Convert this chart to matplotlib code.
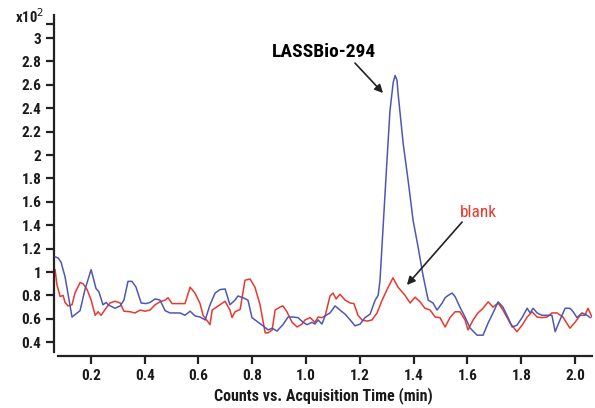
import matplotlib
matplotlib.use("Agg")
import matplotlib.pyplot as plt
from matplotlib import font_manager

# ---------------- data ----------------
blue_t = [0.067, 0.078, 0.089, 0.104, 0.130, 0.149, 0.160, 0.178, 0.201, 0.219,
          0.230, 0.245, 0.257, 0.264, 0.290, 0.309, 0.323, 0.338, 0.353, 0.368,
          0.387, 0.405, 0.420, 0.439, 0.457, 0.476, 0.494, 0.532, 0.550, 0.569,
          0.587, 0.606, 0.625, 0.643, 0.662, 0.680, 0.699, 0.717, 0.736, 0.747,
          0.766, 0.784, 0.799, 0.822, 0.840, 0.859, 0.874, 0.892, 0.914, 0.933,
          0.952, 0.970, 0.989, 1.004, 1.022, 1.033, 1.045, 1.059, 1.071, 1.089,
          1.108, 1.126, 1.145, 1.164, 1.182, 1.201, 1.219, 1.238, 1.257, 1.268,
          1.275, 1.283, 1.301, 1.312, 1.324, 1.331, 1.338, 1.342, 1.361, 1.379,
          1.398, 1.416, 1.435, 1.454, 1.472, 1.487, 1.506, 1.517, 1.528, 1.543,
          1.554, 1.572, 1.591, 1.610, 1.636, 1.658, 1.677, 1.695, 1.714, 1.732,
          1.751, 1.766, 1.784, 1.803, 1.822, 1.833, 1.844, 1.859, 1.877, 1.896,
          1.914, 1.926, 1.944, 1.963, 1.981, 1.993, 2.007, 2.026, 2.045, 2.056]
blue_v = [1.13, 1.12, 1.085, 0.96, 0.615, 0.65, 0.67, 0.85, 1.02, 0.86,
          0.83, 0.72, 0.74, 0.72, 0.69, 0.71, 0.76, 0.92, 0.92, 0.87,
          0.735, 0.73, 0.74, 0.77, 0.76, 0.67, 0.65, 0.65, 0.63, 0.665,
          0.625, 0.615, 0.59, 0.72, 0.82, 0.85, 0.855, 0.72, 0.76, 0.795,
          0.78, 0.76, 0.61, 0.57, 0.54, 0.505, 0.52, 0.495, 0.55, 0.615,
          0.615, 0.61, 0.57, 0.55, 0.57, 0.555, 0.59, 0.555, 0.625, 0.65,
          0.71, 0.675, 0.64, 0.59, 0.54, 0.555, 0.61, 0.64, 0.76, 0.80,
          0.93, 1.25, 1.96, 2.38, 2.62, 2.68, 2.64, 2.53, 2.10, 1.79,
          1.44, 1.22, 0.97, 0.76, 0.735, 0.675, 0.735, 0.78, 0.80, 0.82,
          0.79, 0.70, 0.615, 0.52, 0.46, 0.46, 0.565, 0.65, 0.745, 0.70,
          0.61, 0.53, 0.545, 0.61, 0.69, 0.65, 0.69, 0.65, 0.63, 0.63,
          0.63, 0.49, 0.59, 0.69, 0.69, 0.66, 0.61, 0.65, 0.63, 0.61]

red_t = [0.067, 0.074, 0.086, 0.097, 0.104, 0.115, 0.130, 0.141, 0.160, 0.171,
         0.186, 0.201, 0.216, 0.227, 0.238, 0.253, 0.271, 0.290, 0.309, 0.323,
         0.346, 0.364, 0.383, 0.401, 0.420, 0.439, 0.457, 0.476, 0.487, 0.502,
         0.532, 0.550, 0.569, 0.587, 0.606, 0.617, 0.643, 0.651, 0.680, 0.699,
         0.717, 0.725, 0.736, 0.755, 0.773, 0.792, 0.810, 0.829, 0.848, 0.859,
         0.874, 0.885, 0.903, 0.914, 0.929, 0.948, 0.967, 0.985, 0.996, 1.015,
         1.033, 1.045, 1.059, 1.071, 1.089, 1.100, 1.112, 1.126, 1.145, 1.164,
         1.178, 1.193, 1.208, 1.227, 1.245, 1.264, 1.283, 1.301, 1.323, 1.342,
         1.368, 1.387, 1.405, 1.424, 1.442, 1.461, 1.480, 1.498, 1.517, 1.535,
         1.554, 1.572, 1.591, 1.602, 1.621, 1.639, 1.658, 1.677, 1.695, 1.714,
         1.732, 1.758, 1.784, 1.803, 1.822, 1.840, 1.859, 1.877, 1.896, 1.914,
         1.933, 1.955, 1.981, 2.000, 2.019, 2.037, 2.048, 2.063]
red_v = [1.02, 0.89, 0.79, 0.80, 0.74, 0.71, 0.72, 0.82, 0.91, 0.90,
         0.85, 0.76, 0.63, 0.66, 0.63, 0.68, 0.735, 0.75, 0.735, 0.665,
         0.66, 0.65, 0.675, 0.665, 0.675, 0.72, 0.745, 0.76, 0.78, 0.73,
         0.73, 0.73, 0.87, 0.82, 0.73, 0.63, 0.55, 0.675, 0.72, 0.75,
         0.675, 0.61, 0.66, 0.68, 0.93, 0.94, 0.87, 0.72, 0.48, 0.48,
         0.505, 0.675, 0.70, 0.71, 0.66, 0.57, 0.53, 0.555, 0.59, 0.61,
         0.57, 0.615, 0.61, 0.625, 0.795, 0.82, 0.77, 0.81, 0.76, 0.735,
         0.73, 0.63, 0.59, 0.58, 0.59, 0.65, 0.76, 0.85, 0.95, 0.87,
         0.80, 0.735, 0.785, 0.745, 0.69, 0.675, 0.615, 0.61, 0.53, 0.61,
         0.66, 0.66, 0.59, 0.505, 0.59, 0.65, 0.69, 0.745, 0.70, 0.735,
         0.675, 0.565, 0.49, 0.545, 0.615, 0.66, 0.615, 0.61, 0.615, 0.65,
         0.65, 0.615, 0.52, 0.57, 0.63, 0.63, 0.69, 0.615]

x_ticks = [0.2, 0.4, 0.6, 0.8, 1.0, 1.2, 1.4, 1.6, 1.8, 2.0]
x_tick_labels = ["0.2", "0.4", "0.6", "0.8", "1.0", "1.2", "1.4", "1.6", "1.8", "2.0"]
y_ticks = [0.4, 0.6, 0.8, 1.0, 1.2, 1.4, 1.6, 1.8, 2.0, 2.2, 2.4, 2.6, 2.8, 3.0, 3.12]
y_tick_labels = ["0.4", "0.6", "0.8", "1", "1.2", "1.4", "1.6", "1.8", "2", "2.2",
                 "2.4", "2.6", "2.8", "3", ""]

# ---------------- fonts ----------------
available = {f.name for f in font_manager.fontManager.ttflist}
cond = None
for cand in ["Liberation Sans Narrow", "DejaVu Sans Condensed", "Roboto Condensed"]:
    if cand in available:
        cond = cand
        break
if cond is None:
    cond = "DejaVu Sans"
plt.rcParams["font.family"] = [cond, "DejaVu Sans"]

# ---------------- figure ----------------
W, H = 595, 408
fig = plt.figure(figsize=(W / 100, H / 100), dpi=100)
ax = fig.add_axes([54 / W, 1 - 356 / H, (592 - 54) / W, (356 - 15) / H])

blue = "#4f57b5"
red = "#e8392e"
ax.plot(blue_t, blue_v, color=blue, lw=1.1, zorder=3)
ax.plot(red_t, red_v, color=red, lw=1.1, zorder=2)

ax.set_xlim(0.063, 2.063)
ax.set_ylim(0.282, 3.197)

for s in ["top", "right"]:
    ax.spines[s].set_visible(False)
ax.spines["left"].set_bounds(0.316, 3.197)
ax.spines["bottom"].set_bounds(0.078, 2.063)
for s in ["left", "bottom"]:
    ax.spines[s].set_linewidth(1.6)
    ax.spines[s].set_color("#222222")

ax.set_xticks(x_ticks)
ax.set_xticklabels(x_tick_labels, fontsize=11, fontweight="bold", color="#1a1a1a")
ax.set_yticks(y_ticks)
ax.set_yticklabels(y_tick_labels, fontsize=11, fontweight="bold", color="#1a1a1a")
ax.tick_params(axis="both", direction="out", length=6, width=1.6, color="#222222", pad=3)

ax.set_xlabel("Counts vs. Acquisition Time (min)", fontsize=11.5, fontweight="bold",
              color="#1a1a1a", labelpad=3)

fig.text(15 / W, 1 - 17 / H, "x10$^2$", fontsize=10.5, fontweight="bold",
         color="#1a1a1a", va="center", ha="left")

# annotations
ax.text(1.067, 2.88, "LASSBio-294", fontsize=14, fontweight="bold", color="black",
        ha="center", va="center")
ax.annotate("", xy=(1.286, 2.53), xytext=(1.182, 2.786),
            arrowprops=dict(arrowstyle="-|>", color="#222222", lw=1.2,
                            mutation_scale=12, shrinkA=0, shrinkB=0))
ax.text(1.640, 1.51, "blank", fontsize=12.5, color=red, ha="center", va="center")
ax.annotate("", xy=(1.375, 0.889), xytext=(1.580, 1.427),
            arrowprops=dict(arrowstyle="-|>", color="#222222", lw=1.2,
                            mutation_scale=12, shrinkA=0, shrinkB=0))

fig.savefig("out.png", dpi=100)
